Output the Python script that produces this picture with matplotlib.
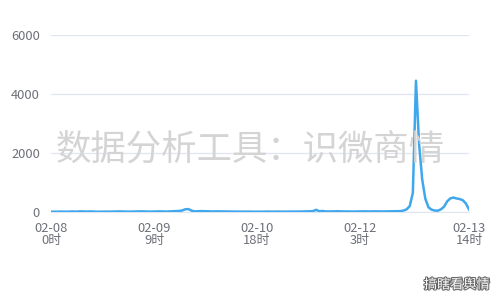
import matplotlib.pyplot as plt
import matplotlib.patheffects as pe

plt.rcParams['font.family'] = ['Noto Sans CJK SC', 'DejaVu Sans']

# hourly values, 02-08 0时 .. 02-13 14时 (135 points)
hours = list(range(135))
values = [
    10, 12, 10, 15, 12, 10, 14, 18, 12, 20,   # 0-9
    22, 15, 18, 20, 12, 10, 12, 15, 14, 12,   # 10-19
    15, 18, 20, 16, 14, 12, 15, 18, 20, 22,   # 20-29
    18, 15, 14, 18, 20, 22, 18, 15, 20, 25,   # 30-39
    30, 35, 50, 90, 100, 50, 20, 25, 30, 28,  # 40-49
    25, 20, 18, 22, 20, 15, 14, 12, 15, 14,   # 50-59
    12, 10, 12, 14, 12, 10, 12, 10, 12, 14,   # 60-69
    15, 12, 14, 15, 12, 14, 16, 15, 14, 15,   # 70-79
    16, 18, 20, 25, 30, 75, 25, 35, 20, 18,   # 80-89
    20, 22, 25, 20, 18, 20, 18, 15, 18, 20,   # 90-99
    22, 20, 18, 20, 22, 20, 18, 20, 22, 25,   # 100-109
    25, 28, 30, 50, 90, 200, 650, 4450, 2300, 1100,  # 110-119
    450, 160, 80, 50, 45, 90, 180, 360, 460, 490,    # 120-129
    460, 440, 400, 290, 90,                          # 130-134
]

tick_pos = [0, 33, 66, 99, 134]
tick_labels = ['02-08\n0时', '02-09\n9时', '02-10\n18时', '02-12\n3时', '02-13\n14时']
y_ticks = [0, 2000, 4000, 6000]

fig = plt.figure(figsize=(5, 3), dpi=100)
ax = fig.add_axes([0.102, 0.2933, 0.836, 0.59])

ax.plot(hours, values, color='#3fa7ec', linewidth=1.8, zorder=3, solid_joinstyle='round')

ax.set_xlim(0, 134)
ax.set_ylim(0, 6000)
ax.set_yticks(y_ticks)
ax.set_yticklabels([str(v) for v in y_ticks])
ax.set_xticks(tick_pos)
ax.set_xticklabels(tick_labels, linespacing=0.95)
ax.tick_params(axis='both', length=0, labelsize=9.3, colors='#6e7079')
ax.tick_params(axis='y', pad=8)
ax.tick_params(axis='x', pad=7)
ax.grid(axis='y', color='#e0e6f1', linewidth=0.9, zorder=2)
for s in ax.spines.values():
    s.set_visible(False)
ax.spines['bottom'].set_visible(True)
ax.spines['bottom'].set_color('#e0e6f1')

fig.text(0.5, 0.5, '数据分析工具：识微商情', fontsize=25.5, color='#d4d4d4',
         ha='center', va='center', zorder=1)
fig.text(0.914, 0.05, '搞瞎看舆情', fontsize=9.5, color='white', ha='center', va='center',
         path_effects=[pe.withStroke(linewidth=1.5, foreground='#666666')])

fig.savefig('out.png', dpi=100)
